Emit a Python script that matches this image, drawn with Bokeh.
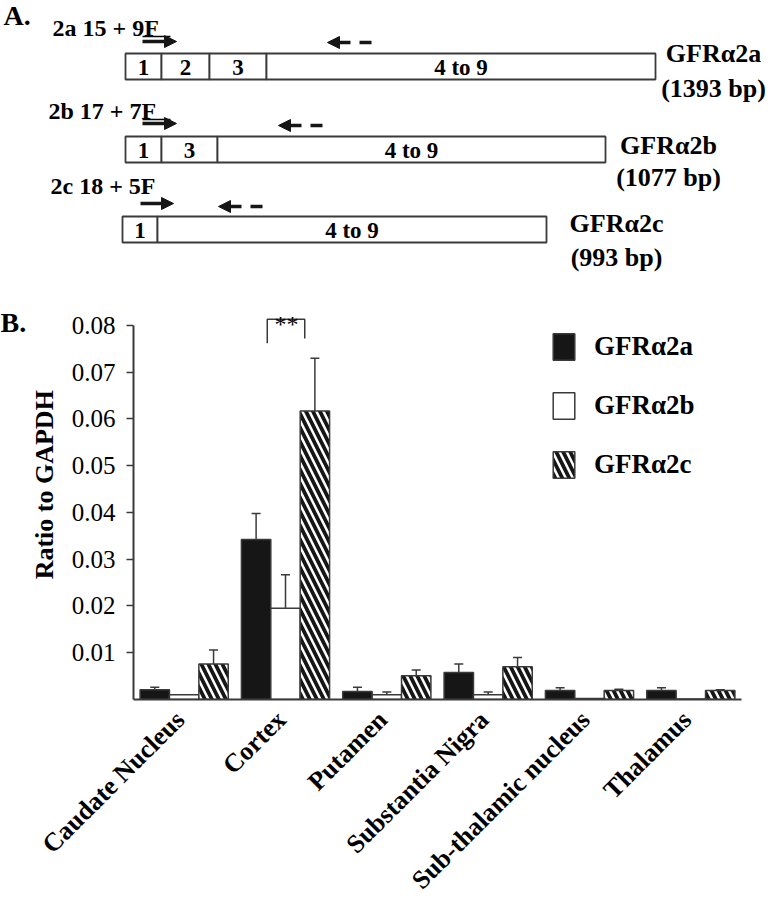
import math
from bokeh.plotting import figure
from bokeh.models import (Range1d, FixedTicker, Arrow, NormalHead, Whisker, TeeHead,
                          ColumnDataSource, Legend, LegendItem, PrintfTickFormatter)
from bokeh.layouts import row
from bokeh.embed import file_html
from bokeh.resources import INLINE
from bokeh.core.properties import value

SERIF = "Liberation Serif"
INK = "#161616"
EDGE = "#3a3a3a"

# ---------------- Panel A: transcript schematic ----------------
iso_names = ["GFRα2a", "GFRα2b", "GFRα2c"]
iso_sizes = ["(1393 bp)", "(1077 bp)", "(993 bp)"]
primer_names = ["2a 15 + 9F", "2b 17 + 7F", "2c 18 + 5F"]
exon_bounds = [[125, 161, 209, 266, 655], [125, 161, 217, 605], [122, 157, 546]]
exon_labels = [["1", "2", "3", "4 to 9"], ["1", "3", "4 to 9"], ["1", "4 to 9"]]
row_y = [66, 149, 229]
primer_label_x = [52, 48, 50]
primer_label_y = [27, 110, 185]
fwd_primer = [(142, 176, 41), (142, 176, 123), (140, 173, 203)]
rev_primer = [(371, 327, 42), (322, 278, 125), (262, 218, 206)]
underlines = [(142, 170, 36), (142, 170, 119)]
iso_label_x = [713, 668, 616]
iso_name_y = [53, 145, 223]
iso_size_y = [88, 177, 257]

pa = figure(width=772, height=294, x_range=Range1d(0, 772), y_range=Range1d(294, 0),
            output_backend="svg", toolbar_location=None, min_border=0,
            x_axis_location=None, y_axis_location=None, outline_line_color=None)
pa.grid.visible = False

for bounds, labels, yc in zip(exon_bounds, exon_labels, row_y):
    lefts = bounds[:-1]
    rights = bounds[1:]
    pa.quad(left=lefts, right=rights, top=[yc - 13] * len(lefts), bottom=[yc + 13] * len(lefts),
            fill_color="white", line_color=EDGE, line_width=1.8)
    mids = [(l + r) / 2 for l, r in zip(lefts, rights)]
    pa.text(x=mids, y=[yc + 1] * len(mids), text=labels, text_align="center",
            text_baseline="middle", text_font=value(SERIF), text_font_style="bold",
            text_font_size="23px", text_color="black")

pa.text(x=primer_label_x, y=primer_label_y, text=primer_names, text_align="left",
        text_baseline="middle", text_font=value(SERIF), text_font_style="bold",
        text_font_size="24px", text_color="black")
pa.segment(x0=[u[0] for u in underlines], x1=[u[1] for u in underlines],
           y0=[u[2] for u in underlines], y1=[u[2] for u in underlines],
           line_color="black", line_width=1.5)

for x0, x1, y in fwd_primer:
    pa.add_layout(Arrow(x_start=x0, y_start=y, x_end=x1, y_end=y, line_width=3.5, line_color=INK,
                        end=NormalHead(size=12, fill_color=INK, line_color=INK)))
for x0, x1, y in rev_primer:
    pa.add_layout(Arrow(x_start=x0, y_start=y, x_end=x1, y_end=y, line_width=3.5, line_color=INK,
                        line_dash="12 9",
                        end=NormalHead(size=12, fill_color=INK, line_color=INK)))

pa.text(x=iso_label_x, y=iso_name_y, text=iso_names, text_align="center", text_baseline="middle",
        text_font=value(SERIF), text_font_style="bold", text_font_size="26px", text_color="black")
pa.text(x=iso_label_x, y=iso_size_y, text=iso_sizes, text_align="center", text_baseline="middle",
        text_font=value(SERIF), text_font_style="bold", text_font_size="26px", text_color="black")
pa.text(x=[3], y=[15], text=["A."], text_align="left", text_baseline="middle",
        text_font=value(SERIF), text_font_style="bold", text_font_size="28px", text_color="black")

# ---------------- Panel B: bar chart ----------------
categories = ["Caudate Nucleus", "Cortex", "Putamen", "Substantia Nigra",
              "Sub-thalamic nucleus", "Thalamus"]
series_names = ["GFRα2a", "GFRα2b", "GFRα2c"]
a_vals = [0.0021, 0.0342, 0.0017, 0.0058, 0.0019, 0.0019]
a_err = [0.0005, 0.0056, 0.0009, 0.0018, 0.0006, 0.0006]
b_vals = [0.0010, 0.0195, 0.0010, 0.0010, 0.0002, 0.0001]
b_err = [0.0, 0.0072, 0.0006, 0.0006, 0.0, 0.0]
c_vals = [0.0076, 0.0617, 0.0051, 0.0070, 0.0019, 0.0019]
c_err = [0.0030, 0.0113, 0.0012, 0.0020, 0.0003, 0.0002]
y_ticks = [0.01, 0.02, 0.03, 0.04, 0.05, 0.06, 0.07, 0.08]
sig_pair = ("Cortex", "**")

GROUP = 100
centers = [GROUP * i + GROUP // 2 for i in range(len(categories))]
BW = 29
offsets = [-29, 0, 29]
y_range = Range1d(0, 0.0849)

p = figure(frame_width=608, frame_height=397, x_range=Range1d(0, GROUP * len(categories)),
           y_range=y_range, output_backend="svg", toolbar_location=None,
           min_border_left=105, min_border_right=33, min_border_top=8, min_border_bottom=196,
           outline_line_color=None)
p.grid.visible = False

styles = [dict(fill_color=INK), dict(fill_color="white"),
          dict(fill_color="white", hatch_pattern="left_diagonal_line", hatch_color=INK,
               hatch_weight=3.8, hatch_scale=14)]
renderers = []
for vals, errs, off, st in zip([a_vals, b_vals, c_vals], [a_err, b_err, c_err], offsets, styles):
    xs = [c + off for c in centers]
    r = p.vbar(x=xs, top=vals, width=BW, line_color=EDGE, line_width=1.5, **st)
    renderers.append(r)
    src = ColumnDataSource(dict(
        x=[x for x, e in zip(xs, errs) if e > 0],
        lo=[v for v, e in zip(vals, errs) if e > 0],
        hi=[v + e for v, e in zip(vals, errs) if e > 0]))
    p.add_layout(Whisker(source=src, base="x", lower="lo", upper="hi", dimension="height",
                         lower_head=None,
                         upper_head=TeeHead(size=9, line_color=EDGE, line_width=1.5),
                         line_color=EDGE, line_width=1.5))

# significance bracket over Cortex
ci = centers[categories.index(sig_pair[0])]
p.line(x=[ci - 18, ci - 18, ci + 19, ci + 19], y=[0.0762, 0.0813, 0.0813, 0.0772],
       line_color=EDGE, line_width=1.5)
p.text(x=[ci + 1], y=[0.0804], text=[sig_pair[1]], text_align="center", text_baseline="alphabetic",
       text_font=value(SERIF), text_font_size="24px", text_color="black")

legend = Legend(items=[LegendItem(label=n, renderers=[r]) for n, r in zip(series_names, renderers)],
                location=(417, 218), border_line_color=None, background_fill_alpha=0,
                padding=0, margin=0, glyph_width=27, glyph_height=33, spacing=26,
                label_standoff=17, label_text_font=SERIF, label_text_font_style="bold",
                label_text_font_size="27px", label_text_baseline="middle",
                label_text_color="black")
p.add_layout(legend)

p.yaxis.ticker = FixedTicker(ticks=y_ticks)
p.yaxis.formatter = PrintfTickFormatter(format="%.2f")
p.yaxis.bounds = (0, 0.08)
p.yaxis.major_label_text_font = SERIF
p.yaxis.major_label_text_font_size = "25px"
p.yaxis.major_label_text_font_style = "normal"
p.yaxis.major_label_text_color = "black"
p.yaxis.major_label_standoff = 11
p.yaxis.major_tick_out = 7
p.yaxis.major_tick_in = 0
p.yaxis.minor_tick_line_color = None
p.yaxis.axis_line_width = 2
p.yaxis.axis_line_color = EDGE
p.yaxis.major_tick_line_color = EDGE
p.yaxis.major_tick_line_width = 1.5
# leading no-break spaces nudge the centred title up to where the reference has it
p.yaxis.axis_label = "\u00a0" * 5 + "Ratio to GAPDH"
p.yaxis.axis_label_text_font = SERIF
p.yaxis.axis_label_text_font_style = "bold"
p.yaxis.axis_label_text_font_size = "26px"
p.yaxis.axis_label_text_color = "black"
p.yaxis.axis_label_standoff = 10

p.xaxis.ticker = FixedTicker(ticks=[c - 4 for c in centers])
p.xaxis.major_label_overrides = {c - 4: name for c, name in zip(centers, categories)}
p.xaxis.major_label_orientation = math.pi / 4
p.xaxis.major_label_text_font = SERIF
p.xaxis.major_label_text_font_size = "26px"
p.xaxis.major_label_text_font_style = "bold"
p.xaxis.major_label_text_color = "black"
p.xaxis.major_label_standoff = 16
p.xaxis.major_tick_line_color = None
p.xaxis.major_tick_out = 0
p.xaxis.major_tick_in = 0
p.xaxis.minor_tick_line_color = None
p.xaxis.axis_line_width = 2
p.xaxis.axis_line_color = EDGE

# narrow strip holding the panel letter, sharing the bar chart's y scale
lf = figure(frame_width=26, frame_height=397, x_range=Range1d(0, 26), y_range=y_range,
            output_backend="svg", toolbar_location=None, min_border_left=0, min_border_right=0,
            min_border_top=8, min_border_bottom=196, x_axis_location=None, y_axis_location=None,
            outline_line_color=None)
lf.grid.visible = False
lf.text(x=[0], y=[0.0806], text=["B."], text_align="left", text_baseline="middle",
        text_font=value(SERIF), text_font_style="bold", text_font_size="28px", text_color="black")

open("out.html", "w").write(file_html([pa, row(lf, p)], INLINE))
